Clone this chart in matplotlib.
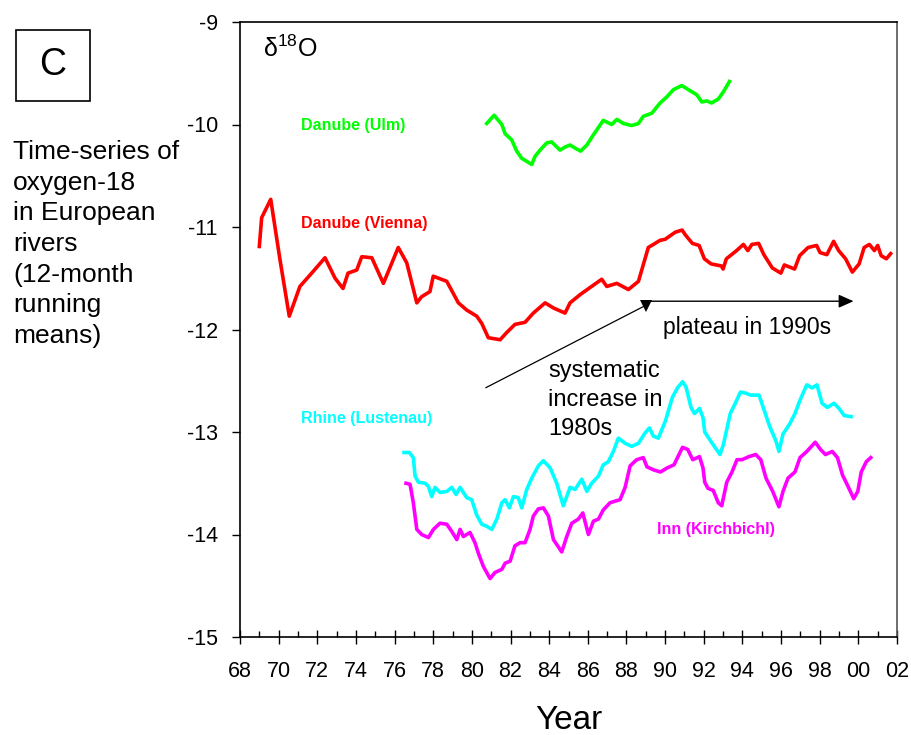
import matplotlib
matplotlib.use("Agg")
import matplotlib.pyplot as plt
from matplotlib.patches import Rectangle

plt.rcParams["font.family"] = ["Liberation Sans", "DejaVu Sans"]

# 12-month running means of delta-18O (per mil) in four rivers
vienna_year = [
    1969.00, 1969.12, 1969.59, 1970.07, 1970.55, 1971.10, 1971.71, 1972.40, 1972.92, 1973.33,
    1973.59, 1974.04, 1974.30, 1974.82, 1975.42, 1976.19, 1976.63, 1977.15, 1977.40, 1977.83,
    1978.00, 1978.70, 1979.30, 1979.73, 1980.25, 1980.51, 1980.85, 1981.46, 1981.80, 1982.23,
    1982.75, 1983.18, 1983.79, 1984.22, 1984.82, 1985.08, 1985.60, 1986.12, 1986.72, 1986.98,
    1987.50, 1988.10, 1988.62, 1989.13, 1989.74, 1990.00, 1990.53, 1990.88, 1991.06, 1991.41,
    1991.76, 1992.03, 1992.38, 1992.91, 1993.00, 1993.17, 1993.70, 1994.05, 1994.28, 1994.49,
    1994.84, 1995.11, 1995.55, 1995.99, 1996.17, 1996.70, 1996.96, 1997.40, 1997.84, 1998.02,
    1998.37, 1998.72, 1998.98, 1999.34, 1999.69, 2000.04, 2000.30, 2000.57, 2000.83, 2001.00,
    2001.18, 2001.45, 2001.67,
]
vienna_d18o = [
    -11.19, -10.91, -10.73, -11.32, -11.87, -11.58, -11.45, -11.30, -11.50, -11.60,
    -11.45, -11.42, -11.29, -11.30, -11.55, -11.20, -11.35, -11.74, -11.68, -11.63,
    -11.48, -11.53, -11.74, -11.81, -11.87, -11.94, -12.08, -12.10, -12.03, -11.95,
    -11.93, -11.84, -11.74, -11.79, -11.84, -11.74, -11.66, -11.59, -11.51, -11.58,
    -11.55, -11.61, -11.53, -11.20, -11.13, -11.12, -11.05, -11.03, -11.08, -11.16,
    -11.18, -11.31, -11.36, -11.38, -11.41, -11.31, -11.23, -11.17, -11.23, -11.17,
    -11.16, -11.27, -11.40, -11.45, -11.37, -11.41, -11.28, -11.20, -11.18, -11.25,
    -11.27, -11.14, -11.23, -11.31, -11.44, -11.36, -11.20, -11.17, -11.23, -11.18,
    -11.28, -11.31, -11.26,
]

ulm_year = [
    1980.77, 1981.15, 1981.55, 1981.72, 1982.06, 1982.32, 1982.58, 1982.84, 1983.10, 1983.27,
    1983.53, 1983.87, 1984.13, 1984.56, 1984.82, 1985.08, 1985.43, 1985.63, 1985.95, 1986.29,
    1986.80, 1987.24, 1987.50, 1987.84, 1988.27, 1988.62, 1988.87, 1989.31, 1989.74, 1990.09,
    1990.43, 1990.86, 1991.29, 1991.64, 1991.90, 1992.15, 1992.41, 1992.76, 1993.02, 1993.33,
]
ulm_d18o = [
    -9.99, -9.91, -10.00, -10.09, -10.15, -10.26, -10.33, -10.36, -10.39, -10.31,
    -10.25, -10.18, -10.17, -10.25, -10.22, -10.20, -10.24, -10.26, -10.20, -10.10,
    -9.96, -10.00, -9.95, -9.99, -10.01, -9.99, -9.92, -9.89, -9.79, -9.73,
    -9.66, -9.62, -9.67, -9.71, -9.78, -9.77, -9.79, -9.75, -9.68, -9.58,
]

rhine_year = [
    1976.49, 1976.76, 1976.97, 1977.06, 1977.23, 1977.58, 1977.75, 1977.92, 1978.09, 1978.35,
    1978.70, 1978.96, 1979.18, 1979.39, 1979.73, 1979.99, 1980.25, 1980.51, 1980.77, 1981.03,
    1981.29, 1981.55, 1981.72, 1981.94, 1982.15, 1982.40, 1982.58, 1982.84, 1983.10, 1983.44,
    1983.70, 1984.05, 1984.39, 1984.73, 1984.91, 1985.08, 1985.34, 1985.69, 1985.95, 1986.20,
    1986.55, 1986.80, 1987.06, 1987.32, 1987.58, 1987.93, 1988.27, 1988.62, 1988.96, 1989.19,
    1989.39, 1989.65, 1989.91, 1990.02, 1990.38, 1990.64, 1990.90, 1991.08, 1991.34, 1991.52,
    1991.78, 1991.96, 1992.05, 1992.40, 1992.84, 1993.02, 1993.37, 1993.63, 1993.90, 1994.16,
    1994.42, 1994.86, 1995.13, 1995.40, 1995.74, 1995.89, 1996.10, 1996.45, 1996.72, 1996.98,
    1997.33, 1997.60, 1997.86, 1998.12, 1998.39, 1998.74, 1999.00, 1999.27, 1999.62,
]
rhine_d18o = [
    -13.20, -13.20, -13.25, -13.43, -13.49, -13.50, -13.53, -13.63, -13.54, -13.59,
    -13.58, -13.54, -13.61, -13.54, -13.64, -13.66, -13.81, -13.90, -13.92, -13.95,
    -13.85, -13.69, -13.66, -13.74, -13.63, -13.64, -13.74, -13.56, -13.45, -13.33,
    -13.28, -13.35, -13.50, -13.72, -13.63, -13.54, -13.56, -13.46, -13.58, -13.50,
    -13.43, -13.32, -13.29, -13.19, -13.06, -13.11, -13.14, -13.11, -13.01, -12.96,
    -13.04, -13.06, -12.94, -12.89, -12.66, -12.57, -12.51, -12.56, -12.76, -12.82,
    -12.77, -12.86, -13.00, -13.10, -13.22, -13.12, -12.82, -12.72, -12.61, -12.62,
    -12.64, -12.64, -12.79, -12.94, -13.09, -13.19, -13.02, -12.92, -12.82, -12.69,
    -12.54, -12.57, -12.54, -12.72, -12.76, -12.72, -12.77, -12.84, -12.85,
]

inn_year = [
    1976.59, 1976.80, 1976.97, 1977.15, 1977.40, 1977.75, 1978.01, 1978.35, 1978.70, 1978.96,
    1979.22, 1979.39, 1979.56, 1979.90, 1980.16, 1980.33, 1980.59, 1980.94, 1981.20, 1981.55,
    1981.72, 1981.98, 1982.23, 1982.49, 1982.75, 1983.01, 1983.18, 1983.44, 1983.70, 1983.96,
    1984.22, 1984.65, 1984.91, 1985.17, 1985.51, 1985.74, 1986.03, 1986.29, 1986.55, 1986.80,
    1987.15, 1987.67, 1987.93, 1988.19, 1988.53, 1988.87, 1989.06, 1989.41, 1989.76, 1990.11,
    1990.46, 1990.64, 1990.90, 1991.17, 1991.43, 1991.78, 1991.96, 1992.05, 1992.22, 1992.49,
    1992.75, 1992.93, 1993.19, 1993.46, 1993.72, 1993.98, 1994.34, 1994.69, 1994.95, 1995.22,
    1995.57, 1995.89, 1996.10, 1996.36, 1996.72, 1996.98, 1997.33, 1997.77, 1998.04, 1998.30,
    1998.65, 1998.92, 1999.18, 1999.44, 1999.76, 1999.97, 2000.15, 2000.41, 2000.64,
]
inn_d18o = [
    -13.50, -13.51, -13.69, -13.95, -14.00, -14.03, -13.95, -13.89, -13.90, -13.97,
    -14.05, -13.95, -14.02, -13.98, -14.08, -14.18, -14.31, -14.43, -14.37, -14.34,
    -14.28, -14.26, -14.11, -14.08, -14.08, -13.95, -13.82, -13.75, -13.74, -13.82,
    -14.05, -14.17, -14.02, -13.89, -13.85, -13.79, -14.00, -13.87, -13.85, -13.76,
    -13.69, -13.66, -13.54, -13.33, -13.27, -13.25, -13.34, -13.37, -13.39, -13.35,
    -13.32, -13.25, -13.15, -13.17, -13.27, -13.24, -13.35, -13.49, -13.55, -13.57,
    -13.69, -13.72, -13.49, -13.39, -13.27, -13.27, -13.24, -13.22, -13.27, -13.45,
    -13.58, -13.73, -13.58, -13.45, -13.39, -13.25, -13.19, -13.10, -13.17, -13.22,
    -13.19, -13.25, -13.42, -13.52, -13.65, -13.58, -13.39, -13.29, -13.25,
]

x_ticks = list(range(1968, 2003, 2))
x_tick_labels = ["68", "70", "72", "74", "76", "78", "80", "82", "84",
                 "86", "88", "90", "92", "94", "96", "98", "00", "02"]
y_ticks = [-15, -14, -13, -12, -11, -10, -9]

GREEN, RED, CYAN, MAGENTA = "#00FF00", "#FF0000", "#00FFFF", "#FF00FF"

fig = plt.figure(figsize=(9.12, 7.35), dpi=100)
ax = fig.add_axes([240 / 912, 1 - 637 / 735, (897 - 240) / 912, (637 - 22) / 735])

lw = 2.6
ax.plot(ulm_year, ulm_d18o, color=GREEN, lw=lw, solid_joinstyle="round")
ax.plot(vienna_year, vienna_d18o, color=RED, lw=lw, solid_joinstyle="round")
ax.plot(rhine_year, rhine_d18o, color=CYAN, lw=lw, solid_joinstyle="round")
ax.plot(inn_year, inn_d18o, color=MAGENTA, lw=lw, solid_joinstyle="round")

ax.set_xlim(1968, 2002)
ax.set_ylim(-15, -9)
ax.set_xticks(x_ticks)
ax.set_xticklabels(x_tick_labels, fontsize=15.5)
ax.set_xticks(range(1969, 2002, 2), minor=True)
ax.set_yticks(y_ticks)
ax.set_yticklabels([str(v) for v in y_ticks], fontsize=15.5)
ax.tick_params(axis="x", which="major", direction="inout", length=10, width=1.0, pad=12)
ax.tick_params(axis="x", which="minor", direction="in", length=4, width=1.0)
ax.tick_params(axis="y", which="major", direction="out", length=6, width=1.0, pad=10)
for side in ("left", "bottom", "top"):
    ax.spines[side].set_linewidth(1.2)
    ax.spines[side].set_color("black")
ax.spines["right"].set_linewidth(1.2)
ax.spines["right"].set_color("#555555")

ax.set_xlabel("Year", fontsize=24, labelpad=17)

# series labels
lab = dict(fontsize=11.5, fontweight="bold", va="center", ha="left")
ax.text(1971.16, -10.01, "Danube (Ulm)", color=GREEN, **lab)
ax.text(1971.16, -10.97, "Danube (Vienna)", color=RED, **lab)
ax.text(1971.16, -12.87, "Rhine (Lustenau)", color=CYAN, **lab)
ax.text(1989.58, -13.95, "Inn (Kirchbichl)", color=MAGENTA, **lab)

ax.text(1969.2, -9.26, r"$\mathregular{\delta^{18}O}$", fontsize=18, va="center", ha="left")

# trend annotations
ax.plot([1980.73, 1988.96], [-12.567, -11.768], color="black", lw=0.9)
ax.plot([1989.01], [-11.77], marker="v", color="black", markersize=9, markeredgewidth=0)
ax.annotate("", xy=(1999.75, -11.724), xytext=(1989.0, -11.724),
            arrowprops=dict(arrowstyle="-|>,head_length=0.9,head_width=0.4",
                            color="black", lw=1.0, shrinkA=0, shrinkB=0))
ax.text(1989.89, -11.98, "plateau in 1990s", fontsize=16.5, va="center", ha="left")
ax.text(1983.94, -12.30, "systematic\nincrease in\n1980s", fontsize=17,
        va="top", ha="left", linespacing=1.4)

# panel letter and description
fig.patches.append(Rectangle((16 / 912, 1 - 101 / 735), 74 / 912, 71 / 735,
                             transform=fig.transFigure, fill=False,
                             edgecolor="black", lw=1.2))
fig.text(53 / 912, 1 - 65 / 735, "C", fontsize=27, ha="center", va="center")
fig.text(13 / 912, 1 - 140 / 735,
         "Time-series of\noxygen-18\nin European\nrivers\n(12-month\nrunning\nmeans)",
         fontsize=19, ha="left", va="top", linespacing=1.35)

fig.savefig("out.png", dpi=100)
